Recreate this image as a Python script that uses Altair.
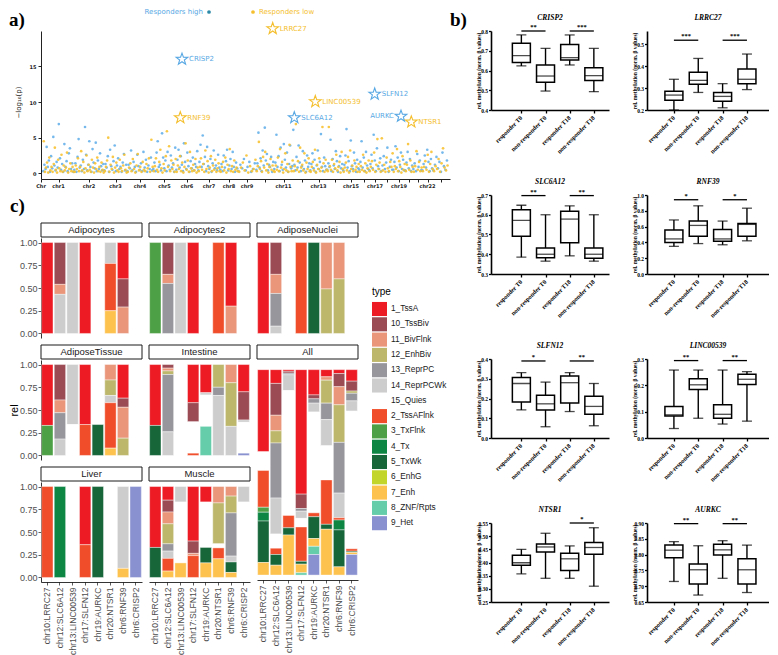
import altair as alt
import pandas as pd

one = pd.DataFrame({"a": [0]})

# ======================= a) Manhattan plot =======================
CHROMS = ["chr1", "chr2", "chr3", "chr4", "chr5", "chr6", "chr7", "chr8", "chr9", "chr10", "chr11",
          "chr12", "chr13", "chr14", "chr15", "chr16", "chr17", "chr18", "chr19", "chr20", "chr21",
          "chr22", "chrX"]
CHROM_EDGES = [2, 33, 63, 86, 112, 135, 157, 179, 197, 215, 233, 252, 269, 286, 302, 318, 328,
               340, 352, 364, 372, 381, 392, 407]
CHROM_TICK_LABELS = ["chr1", "chr2", "chr3", "chr4", "chr5", "chr6", "chr7", "chr8", "chr9", "",
                     "chr11", "", "chr13", "", "chr15", "", "chr17", "", "chr19", "", "", "chr22", ""]

HIGH = {
    "chr1": [0.3, 1.2, 0.6, 3.7, 0.9, 1.8, 0.2, 2.4, 0.7, 5.1, 1.1, 0.4, 1.6, 0.8, 6.9, 2.1, 0.5, 1.3, 0.2, 4.1, 0.9, 1.7, 0.3, 2.8, 3.5, 0.6, 1.4, 0.2],
    "chr2": [0.5, 1.4, 0.2, 2.3, 4.8, 0.8, 1.1, 0.3, 1.9, 0.6, 6.5, 2.6, 0.4, 1.2, 4.5, 0.9, 0.2, 3.4, 1.5, 0.7, 4.3, 0.3, 1.8, 0.6, 2.8, 1.0, 0.4, 1.3],
    "chr3": [0.4, 1.3, 0.8, 2.4, 0.2, 3.3, 1.0, 0.5, 1.7, 3.9, 0.3, 1.1, 2.1, 0.6, 0.9, 0.2, 1.5, 2.7, 0.4, 1.2],
    "chr4": [0.3, 1.2, 0.7, 3.2, 0.4, 1.6, 0.9, 0.2, 2.6, 1.0, 0.5, 1.4, 0.3, 3.0, 0.8, 1.9, 0.2, 1.1, 0.6, 2.2, 0.4],
    "chr5": [0.6, 1.5, 0.3, 2.9, 4.5, 0.9, 1.2, 0.4, 5.6, 2.2, 0.7, 1.8, 0.3, 3.0, 1.1, 0.5, 2.5, 0.8, 1.4, 0.2, 3.6],
    "chr6": [0.5, 1.9, 3.3, 0.8, 2.4, 1.2, 0.3, 4.2, 1.6, 0.6, 2.9, 1.0, 0.2, 1.7, 0.7, 2.2, 0.4, 1.3, 0.9, 3.1],
    "chr7": [0.4, 1.6, 4.0, 0.9, 5.3, 1.3, 2.3, 0.3, 3.7, 1.0, 0.6, 2.0, 0.2, 1.4, 3.2, 0.7, 1.1, 0.4, 2.6, 0.8],
    "chr8": [0.5, 1.3, 0.3, 2.5, 0.8, 1.7, 3.3, 0.4, 1.1, 2.0, 0.6, 3.0, 0.9, 0.2, 1.5, 0.7],
    "chr9": [0.3, 1.2, 0.7, 2.0, 0.4, 0.9, 1.6, 0.2, 0.6, 1.4],
    "chr10": [0.5, 1.4, 5.7, 0.8, 2.1, 0.3, 3.2, 1.1, 6.4, 1.8, 2.7, 0.4, 1.2, 0.9, 2.3, 0.2, 1.6],
    "chr11": [0.6, 1.5, 5.4, 0.9, 2.4, 0.3, 3.6, 1.2, 0.5, 4.1, 1.9, 0.8, 2.9, 0.2, 1.3, 3.9, 0.7, 1.0],
    "chr12": [6.1, 1.2, 0.4, 2.3, 0.8, 3.9, 1.5, 0.3, 1.0, 3.1, 0.6, 1.8, 0.2, 2.5, 0.9, 1.4],
    "chr13": [0.4, 1.3, 2.8, 0.7, 1.9, 0.2, 1.1, 3.2, 0.6, 1.6, 5.5, 0.9, 0.3, 2.2, 1.0, 0.5],
    "chr14": [0.5, 1.4, 0.9, 4.7, 0.3, 2.0, 1.1, 0.6, 3.1, 1.7, 0.2, 1.0, 2.4, 0.7, 1.3],
    "chr15": [0.4, 1.2, 2.5, 6.2, 0.8, 1.7, 0.3, 4.6, 1.0, 0.6, 2.9, 1.4, 0.2, 1.9, 0.7],
    "chr16": [0.5, 1.6, 4.5, 0.8, 2.2, 0.3, 3.0, 1.1, 0.6],
    "chr17": [0.4, 1.3, 2.6, 0.7, 5.4, 1.8, 0.3, 3.5, 1.0, 0.6, 2.1],
    "chr18": [0.3, 1.1, 2.4, 0.6, 1.5, 3.6, 0.2, 0.9, 1.9, 0.5],
    "chr19": [0.5, 1.6, 3.8, 0.8, 2.2, 0.3, 1.2, 2.9, 0.6, 1.9, 0.4],
    "chr20": [0.4, 1.5, 3.0, 0.7, 2.0, 0.3, 1.1],
    "chr21": [0.6, 1.4, 0.3, 2.7, 0.9, 1.8, 0.4],
    "chr22": [0.4, 1.3, 2.5, 0.8, 3.3, 1.6, 0.3, 2.0, 0.7],
    "chrX": [0.4, 1.2, 2.3, 0.7, 1.6, 0.2, 2.9, 1.0, 0.5, 1.8],
}
LOW = {
    "chr1": [4.5, 0.2, 0.8, 1.5, 0.1, 2.2, 0.4, 0.9, 0.2, 1.3, 3.6, 0.5, 0.1, 1.9, 0.7, 0.3, 2.6, 0.2, 1.1, 0.4, 0.8, 2.9, 0.1, 0.6, 1.4, 0.3, 0.9, 0.2],
    "chr2": [0.2, 1.1, 0.6, 2.1, 0.3, 0.9, 3.1, 0.4, 1.6, 0.1, 0.7, 2.5, 0.3, 1.2, 0.5, 0.2, 1.9, 0.8, 0.1, 1.4, 0.6, 2.2, 0.3, 0.9, 0.2, 1.5, 0.5, 0.1],
    "chr3": [0.3, 0.9, 1.8, 5.0, 0.2, 1.2, 0.6, 2.3, 0.1, 0.8, 1.5, 0.4, 0.2, 1.9, 0.7, 0.3, 1.1, 2.6, 0.5, 0.1],
    "chr4": [0.2, 0.8, 1.4, 0.3, 2.0, 0.6, 0.1, 1.1, 2.7, 0.4, 0.9, 0.2, 1.6, 0.5, 0.3, 1.3, 0.7, 2.1, 0.2, 4.7, 0.9],
    "chr5": [0.3, 1.0, 2.1, 0.5, 0.2, 1.6, 3.3, 0.7, 0.1, 1.3, 0.4, 2.4, 5.9, 0.9, 3.8, 0.3, 1.8, 0.6, 1.2, 0.2, 2.0],
    "chr6": [0.2, 1.1, 0.6, 2.4, 0.3, 1.5, 0.1, 0.9, 4.2, 0.5, 1.8, 0.2, 3.0, 0.7, 0.3, 1.2, 0.4, 2.0, 0.1, 0.8],
    "chr7": [0.3, 0.9, 2.1, 0.5, 1.3, 0.2, 3.2, 0.6, 1.7, 0.1, 0.8, 2.4, 0.3, 1.1, 0.5, 1.9, 0.2, 0.7, 1.4, 0.3],
    "chr8": [0.2, 0.9, 1.6, 0.4, 2.2, 0.1, 1.2, 0.6, 3.4, 0.3, 1.0, 0.2, 1.8, 0.5, 0.8, 0.3],
    "chr9": [0.2, 0.8, 1.5, 0.4, 2.5, 0.1, 1.0, 0.3, 0.6, 1.9],
    "chr10": [0.3, 1.0, 4.4, 0.6, 1.7, 0.2, 2.3, 0.8, 3.0, 0.4, 1.3, 0.1, 0.9, 2.0, 0.5, 1.1, 0.3],
    "chr11": [0.2, 1.1, 0.5, 2.2, 0.3, 3.4, 0.8, 1.6, 0.1, 0.6, 2.8, 0.4, 1.3, 0.2, 4.0, 0.9, 0.3, 1.8],
    "chr12": [0.3, 1.0, 6.9, 0.5, 1.7, 0.2, 3.6, 0.8, 1.2, 0.4, 2.8, 0.1, 1.5, 0.6, 2.1, 0.3],
    "chr13": [0.2, 0.9, 1.6, 0.4, 3.3, 0.1, 1.2, 0.6, 2.1, 0.3, 0.8, 6.5, 1.4, 0.2, 1.9, 0.5],
    "chr14": [0.3, 6.5, 1.0, 0.5, 1.9, 0.2, 1.3, 0.7, 2.6, 0.4, 0.9, 1.6, 0.1, 3.0, 0.6],
    "chr15": [0.2, 0.8, 1.5, 0.4, 2.3, 0.1, 3.2, 0.6, 1.1, 0.3, 1.8, 0.5, 0.9, 0.2, 1.3],
    "chr16": [0.2, 1.0, 0.5, 2.6, 0.3, 1.4, 0.1, 0.7, 1.8],
    "chr17": [0.3, 0.9, 1.7, 0.5, 2.9, 0.2, 1.2, 4.8, 0.6, 1.5, 0.2],
    "chr18": [4.9, 0.4, 1.2, 0.2, 2.2, 0.7, 0.3, 1.6, 0.9, 2.8],
    "chr19": [0.2, 1.0, 0.6, 3.4, 0.3, 1.7, 0.9, 0.1, 2.4, 0.5, 1.3],
    "chr20": [0.3, 1.2, 4.1, 0.5, 1.8, 0.2, 0.9],
    "chr21": [0.2, 1.0, 3.1, 0.5, 1.6, 0.3, 0.8],
    "chr22": [0.3, 0.9, 1.7, 0.5, 2.6, 0.2, 1.3, 3.0, 0.6],
    "chrX": [0.3, 1.0, 0.6, 2.0, 0.2, 1.4, 3.5, 0.8, 0.4, 1.1],
}

GENES = ["LRRC27", "CRISP2", "RNF39", "SLC6A12", "LINC00539", "SLFN12", "AURKC", "NTSR1"]
GENE_POS = [231.7, 141.0, 139.3, 253.3, 274.3, 333.7, 360.0, 370.3]
GENE_P = [20.3, 16.0, 7.8, 7.8, 10.05, 11.1, 8.0, 7.2]
GENE_GROUP = ["low", "high", "low", "high", "low", "high", "high", "low"]
GENE_SIDE = ["right", "right", "right", "right", "right", "right", "left", "right"]

BLUE_PT = "#66B1EA"
YEL_PT = "#F7C232"
BLUE_TXT = "#58A8E4"
YEL_TXT = "#F4BE2C"
# five-pointed star outline as a symbol path (unit box -1..1)
STAR_PATH = ("M0,-1L0.235,-0.324L0.951,-0.309L0.380,0.124L0.588,0.809L0,0.4L-0.588,0.809"
             "L-0.380,0.124L-0.951,-0.309L-0.235,-0.324Z")

man_rows = []
for ci, ch in enumerate(CHROMS):
    s, e = CHROM_EDGES[ci], CHROM_EDGES[ci + 1]
    for grp, src, off in (("high", HIGH, 0.3), ("low", LOW, 0.7)):
        vals = src[ch]
        n = len(vals)
        for k, v in enumerate(vals):
            man_rows.append({"pos": s + (k + off) * (e - s) / n, "p": v, "grp": grp})
man_df = pd.DataFrame(man_rows)

tick_vals = [0.0] + [(CHROM_EDGES[i] + CHROM_EDGES[i + 1]) / 2 for i in range(len(CHROMS))]
tick_labs = ["Chr"] + CHROM_TICK_LABELS
tick_df = pd.DataFrame({"pos": tick_vals, "lab": tick_labs})
tick_df = tick_df[tick_df["lab"] != ""]

MAN_H = 148
m_xsc = alt.Scale(domain=[0, 409], nice=False, zero=False)
m_ysc = alt.Scale(domain=[-0.8, 19.96], nice=False, zero=False)
m_xax = alt.Axis(values=tick_vals, labels=False, title=None, grid=False,
                 tickSize=3, tickColor="#222222", domainColor="#222222", domainWidth=1)
m_yax = alt.Axis(values=[0, 5, 10, 15, 20], title="\u2212log\u2081\u2080(p)", grid=False,
                 labelFont="DejaVu Sans", labelFontWeight="bold", labelFontSize=5,
                 labelColor="#222222", tickSize=3, tickColor="#222222", domainColor="#222222",
                 domainWidth=1, labelPadding=2, titleFont="DejaVu Sans", titleFontWeight="normal",
                 titleFontSize=7, titleColor="#222222", titleX=-23, titleY=71, titleAngle=270,
                 titleAlign="center", titleBaseline="middle")
MX = alt.X("pos:Q", scale=m_xsc, axis=m_xax)
MY = alt.Y("p:Q", scale=m_ysc, axis=m_yax)

man_base = alt.Chart(man_df)
blue_pts = man_base.transform_filter("datum.grp == 'high'").mark_circle(
    size=7, color=BLUE_PT, opacity=0.9).encode(x=MX, y=MY)
yel_pts = man_base.transform_filter("datum.grp == 'low'").mark_circle(
    size=7, color=YEL_PT, opacity=0.9).encode(x=MX, y=MY)

chr_labels = alt.Chart(tick_df).mark_text(baseline="top", align="center", fontSize=5,
                                          font="DejaVu Sans", fontWeight="bold",
                                          color="#222222").encode(
    x=MX, y=alt.value(MAN_H + 5), text="lab:N")

star_df = pd.DataFrame({"gene": GENES, "pos": GENE_POS, "p": GENE_P, "grp": GENE_GROUP,
                        "side": GENE_SIDE})
gene_layers = []
for grp, colr in (("high", BLUE_TXT), ("low", YEL_TXT)):
    sub = alt.Chart(star_df).transform_filter("datum.grp == '%s'" % grp)
    gene_layers.append(sub.mark_point(shape=STAR_PATH, filled=False, size=150, strokeWidth=1.1,
                                      color=colr, opacity=1).encode(x=MX, y=MY))
    gene_layers.append(sub.transform_filter("datum.side == 'right'").mark_text(
        align="left", baseline="middle", dx=7, fontSize=7, font="DejaVu Sans", color=colr).encode(
        x=MX, y=MY, text="gene:N"))
    gene_layers.append(sub.transform_filter("datum.side == 'left'").mark_text(
        align="right", baseline="middle", dx=-7, fontSize=7, font="DejaVu Sans", color=colr).encode(
        x=MX, y=MY, text="gene:N"))

leg_t1 = alt.Chart(one).mark_text(text="Responders high", align="right", baseline="middle",
                                  fontSize=7, font="DejaVu Sans", color=BLUE_TXT).encode(
    x=alt.value(162), y=alt.value(-19))
leg_d1 = alt.Chart(one).mark_circle(size=14, color="#2C8AA8", opacity=1).encode(
    x=alt.value(168), y=alt.value(-19))
leg_d2 = alt.Chart(one).mark_circle(size=14, color=YEL_TXT, opacity=1).encode(
    x=alt.value(212), y=alt.value(-19))
leg_t2 = alt.Chart(one).mark_text(text="Responders low", align="left", baseline="middle",
                                  fontSize=7, font="DejaVu Sans", color=YEL_TXT).encode(
    x=alt.value(218), y=alt.value(-19))
lab_a = alt.Chart(one).mark_text(text="a)", align="left", baseline="alphabetic", fontSize=19,
                                 font="Liberation Serif", fontWeight="bold", color="black").encode(
    x=alt.value(-32), y=alt.value(-5))

manhattan = alt.layer(blue_pts, yel_pts, chr_labels, *gene_layers, leg_t1, leg_d1, leg_d2, leg_t2,
                      lab_a).properties(width=409, height=MAN_H)

# ======================= c) chromatin states =======================
TYPES = ["1_TssA", "10_TssBiv", "11_BivFlnk", "12_EnhBiv", "13_ReprPC", "14_ReprPCWk", "15_Quies",
         "2_TssAFlnk", "3_TxFlnk", "4_Tx", "5_TxWk", "6_EnhG", "7_Enh", "8_ZNF/Rpts", "9_Het"]
TYPE_COLORS = ["#ED1C24", "#9B4B53", "#E9967A", "#BDB76B", "#96969C", "#CDCDCD", "#FFFFFF",
               "#F04E2A", "#4EA046", "#0D8543", "#17663A", "#C2D52B", "#FDC24E", "#66CDAA",
               "#8A91D0"]
CATS = ["chr10:LRRC27", "chr12:SLC6A12", "chr13:LINC00539", "chr17:SLFN12", "chr19:AURKC",
        "chr20:NTSR1", "chr6:RNF39", "chr6:CRISP2"]

ADIPOCYTES = {
    "chr10:LRRC27": {"1_TssA": 1.0},
    "chr12:SLC6A12": {"10_TssBiv": 0.46, "11_BivFlnk": 0.11, "14_ReprPCWk": 0.43},
    "chr13:LINC00539": {"14_ReprPCWk": 1.0},
    "chr17:SLFN12": {"1_TssA": 1.0},
    "chr20:NTSR1": {"14_ReprPCWk": 0.23, "2_TssAFlnk": 0.52, "7_Enh": 0.25},
    "chr6:RNF39": {"1_TssA": 0.40, "10_TssBiv": 0.31, "11_BivFlnk": 0.29},
}
ADIPOCYTES2 = {
    "chr10:LRRC27": {"3_TxFlnk": 1.0},
    "chr12:SLC6A12": {"10_TssBiv": 0.35, "11_BivFlnk": 0.10, "13_ReprPC": 0.55},
    "chr13:LINC00539": {"14_ReprPCWk": 1.0},
    "chr17:SLFN12": {"1_TssA": 1.0},
    "chr20:NTSR1": {"2_TssAFlnk": 1.0},
    "chr6:RNF39": {"1_TssA": 0.70, "11_BivFlnk": 0.30},
}
ADIPOSE_NUCLEI = {
    "chr10:LRRC27": {"1_TssA": 1.0},
    "chr12:SLC6A12": {"10_TssBiv": 0.35, "11_BivFlnk": 0.21, "13_ReprPC": 0.36, "14_ReprPCWk": 0.08},
    "chr17:SLFN12": {"2_TssAFlnk": 1.0},
    "chr19:AURKC": {"5_TxWk": 1.0},
    "chr20:NTSR1": {"11_BivFlnk": 0.51, "12_EnhBiv": 0.49},
    "chr6:RNF39": {"11_BivFlnk": 0.40, "12_EnhBiv": 0.60},
}
ADIPOSE_TISSUE = {
    "chr10:LRRC27": {"1_TssA": 0.67, "3_TxFlnk": 0.33},
    "chr12:SLC6A12": {"10_TssBiv": 0.39, "11_BivFlnk": 0.14, "13_ReprPC": 0.29, "14_ReprPCWk": 0.18},
    "chr13:LINC00539": {"14_ReprPCWk": 0.66, "15_Quies": 0.34},
    "chr17:SLFN12": {"1_TssA": 0.66, "2_TssAFlnk": 0.34},
    "chr19:AURKC": {"15_Quies": 0.66, "5_TxWk": 0.34},
    "chr20:NTSR1": {"11_BivFlnk": 0.17, "12_EnhBiv": 0.17, "14_ReprPCWk": 0.08, "2_TssAFlnk": 0.50, "7_Enh": 0.08},
    "chr6:RNF39": {"1_TssA": 0.37, "10_TssBiv": 0.10, "11_BivFlnk": 0.34, "12_EnhBiv": 0.19},
}
INTESTINE = {
    "chr10:LRRC27": {"1_TssA": 0.67, "5_TxWk": 0.33},
    "chr12:SLC6A12": {"10_TssBiv": 0.04, "11_BivFlnk": 0.03, "12_EnhBiv": 0.04, "13_ReprPC": 0.63, "14_ReprPCWk": 0.26},
    "chr17:SLFN12": {"1_TssA": 0.42, "10_TssBiv": 0.21, "15_Quies": 0.345, "2_TssAFlnk": 0.025},
    "chr19:AURKC": {"1_TssA": 0.31, "14_ReprPCWk": 0.025, "15_Quies": 0.345, "8_ZNF/Rpts": 0.32},
    "chr20:NTSR1": {"12_EnhBiv": 0.25, "13_ReprPC": 0.09, "14_ReprPCWk": 0.66},
    "chr6:RNF39": {"11_BivFlnk": 0.20, "12_EnhBiv": 0.48, "14_ReprPCWk": 0.32},
    "chr6:CRISP2": {"1_TssA": 0.30, "10_TssBiv": 0.31, "14_ReprPCWk": 0.025, "15_Quies": 0.34, "9_Het": 0.025},
}
LIVER = {
    "chr10:LRRC27": {"2_TssAFlnk": 1.0},
    "chr12:SLC6A12": {"4_Tx": 1.0},
    "chr17:SLFN12": {"1_TssA": 0.64, "2_TssAFlnk": 0.36},
    "chr19:AURKC": {"5_TxWk": 1.0},
    "chr6:RNF39": {"14_ReprPCWk": 0.90, "7_Enh": 0.10},
    "chr6:CRISP2": {"9_Het": 1.0},
}
MUSCLE = {
    "chr10:LRRC27": {"1_TssA": 0.67, "5_TxWk": 0.33},
    "chr12:SLC6A12": {"1_TssA": 0.15, "10_TssBiv": 0.13, "11_BivFlnk": 0.13, "12_EnhBiv": 0.22, "13_ReprPC": 0.08, "14_ReprPCWk": 0.08, "2_TssAFlnk": 0.14, "7_Enh": 0.07},
    "chr13:LINC00539": {"14_ReprPCWk": 0.17, "15_Quies": 0.67, "7_Enh": 0.16},
    "chr17:SLFN12": {"1_TssA": 0.60, "10_TssBiv": 0.135, "11_BivFlnk": 0.025, "2_TssAFlnk": 0.24},
    "chr19:AURKC": {"1_TssA": 0.17, "15_Quies": 0.50, "5_TxWk": 0.17, "7_Enh": 0.16},
    "chr20:NTSR1": {"11_BivFlnk": 0.18, "12_EnhBiv": 0.45, "15_Quies": 0.045, "2_TssAFlnk": 0.12, "7_Enh": 0.205},
    "chr6:RNF39": {"11_BivFlnk": 0.105, "12_EnhBiv": 0.185, "13_ReprPC": 0.475, "14_ReprPCWk": 0.065, "5_TxWk": 0.115, "7_Enh": 0.055},
    "chr6:CRISP2": {"14_ReprPCWk": 0.17, "15_Quies": 0.83},
}
ALL = {
    "chr10:LRRC27": {"1_TssA": 0.40, "15_Quies": 0.091, "2_TssAFlnk": 0.179, "3_TxFlnk": 0.024, "4_Tx": 0.043, "5_TxWk": 0.202, "7_Enh": 0.061},
    "chr12:SLC6A12": {"1_TssA": 0.067, "10_TssBiv": 0.155, "11_BivFlnk": 0.076, "12_EnhBiv": 0.059, "13_ReprPC": 0.268, "14_ReprPCWk": 0.175, "15_Quies": 0.069, "2_TssAFlnk": 0.031, "5_TxWk": 0.052, "7_Enh": 0.048},
    "chr13:LINC00539": {"1_TssA": 0.008, "10_TssBiv": 0.009, "13_ReprPC": 0.008, "14_ReprPCWk": 0.077, "15_Quies": 0.608, "2_TssAFlnk": 0.06, "5_TxWk": 0.035, "7_Enh": 0.195},
    "chr17:SLFN12": {"1_TssA": 0.606, "10_TssBiv": 0.07, "13_ReprPC": 0.013, "14_ReprPCWk": 0.035, "15_Quies": 0.042, "2_TssAFlnk": 0.167, "5_TxWk": 0.014, "7_Enh": 0.042, "8_ZNF/Rpts": 0.011},
    "chr19:AURKC": {"1_TssA": 0.123, "10_TssBiv": 0.019, "13_ReprPC": 0.021, "14_ReprPCWk": 0.043, "15_Quies": 0.491, "2_TssAFlnk": 0.019, "5_TxWk": 0.106, "7_Enh": 0.038, "8_ZNF/Rpts": 0.04, "9_Het": 0.10},
    "chr20:NTSR1": {"1_TssA": 0.035, "11_BivFlnk": 0.016, "12_EnhBiv": 0.112, "13_ReprPC": 0.08, "14_ReprPCWk": 0.127, "15_Quies": 0.167, "2_TssAFlnk": 0.216, "5_TxWk": 0.024, "7_Enh": 0.223},
    "chr6:RNF39": {"1_TssA": 0.019, "10_TssBiv": 0.064, "11_BivFlnk": 0.088, "12_EnhBiv": 0.183, "13_ReprPC": 0.247, "14_ReprPCWk": 0.12, "2_TssAFlnk": 0.011, "4_Tx": 0.048, "5_TxWk": 0.18, "7_Enh": 0.04},
    "chr6:CRISP2": {"1_TssA": 0.056, "10_TssBiv": 0.048, "12_EnhBiv": 0.011, "13_ReprPC": 0.037, "14_ReprPCWk": 0.05, "15_Quies": 0.67, "2_TssAFlnk": 0.012, "5_TxWk": 0.006, "7_Enh": 0.01, "9_Het": 0.10},
}

PW = 101
PH = 100
COLOR_SCALE = alt.Scale(domain=TYPES, range=TYPE_COLORS)


def c_panel(name, comp, height=PH, ydom=(-0.05, 1.05), show_y=False, show_x=False,
            ytitle=None, extra=()):
    rows = []
    for cat, parts in comp.items():
        for t, v in parts.items():
            rows.append({"cat": cat, "type": t, "value": v, "ord": len(TYPES) - 1 - TYPES.index(t)})
    df = pd.DataFrame(rows)
    if show_y:
        yax = alt.Axis(values=[0, 0.25, 0.5, 0.75, 1], format=".2f", labelFontSize=9,
                       labelColor="#4D4D4D", labelFont="Liberation Sans", tickColor="#333333",
                       tickSize=3, tickWidth=0.8, domainColor="#000000", domainWidth=0.8,
                       grid=False, labelPadding=1,
                       title=ytitle if ytitle else None, titleFont="Liberation Sans",
                       titleFontSize=11, titleFontWeight="normal", titleColor="#000000",
                       titleX=-27, titleY=height / 2, titleAngle=270, titleAlign="center",
                       titleBaseline="middle")
    else:
        yax = None
    if show_x:
        xax = alt.Axis(labelAngle=270, labelAlign="right", labelBaseline="middle",
                       labelFontSize=8.6, labelColor="#4D4D4D", labelFont="Liberation Sans",
                       tickColor="#333333", tickSize=3, tickWidth=0.8, domainColor="#000000",
                       domainWidth=0.8, grid=False, title=None, labelPadding=2)
    else:
        xax = None
    bars = alt.Chart(df).mark_bar(stroke="white", strokeWidth=0.4).encode(
        x=alt.X("cat:N", scale=alt.Scale(domain=CATS, paddingInner=0.1, paddingOuter=0.05),
                axis=xax, title=None),
        y=alt.Y("value:Q", stack="zero", scale=alt.Scale(domain=list(ydom), nice=False, zero=False),
                axis=yax, title=None),
        color=alt.Color("type:N", scale=COLOR_SCALE, legend=None),
        order=alt.Order("ord:Q", sort="ascending"),
    )
    strip = alt.Chart(one).mark_rect(fill="white", stroke="#1A1A1A", strokeWidth=1).encode(
        x=alt.value(0), x2=alt.value(PW), y=alt.value(-15), y2=alt.value(-1))
    strip_t = alt.Chart(one).mark_text(text=name, fontSize=9.5, font="Liberation Sans",
                                       color="#1A1A1A", baseline="middle", align="center").encode(
        x=alt.value(PW / 2), y=alt.value(-8))
    layers = [bars, strip, strip_t] + list(extra)
    return alt.layer(*layers).properties(width=PW, height=height)


lab_c = alt.Chart(one).mark_text(text="c)", align="left", baseline="alphabetic", fontSize=19,
                                 font="Liberation Serif", fontWeight="bold", color="black").encode(
    x=alt.value(-31), y=alt.value(-26))

leg_df = pd.DataFrame({"type": TYPES, "i": list(range(len(TYPES)))})
leg_df["i0"] = leg_df["i"] - 0.46
leg_df["i1"] = leg_df["i"] + 0.46
LEG_H = 300
LEG_STEP = 15.3
L_D0 = -71 / LEG_STEP
L_SC = alt.Scale(domain=[L_D0, L_D0 + LEG_H / LEG_STEP], reverse=True, nice=False, zero=False)
leg_sw = alt.Chart(leg_df).mark_rect().encode(
    x=alt.value(0), x2=alt.value(15),
    y=alt.Y("i0:Q", scale=L_SC, axis=None), y2="i1:Q",
    color=alt.Color("type:N", scale=COLOR_SCALE, legend=None))
leg_lab = alt.Chart(leg_df).mark_text(align="left", baseline="middle", fontSize=8.3,
                                      font="Liberation Sans", color="#1A1A1A").encode(
    x=alt.value(19), y=alt.Y("i:Q", scale=L_SC, axis=None), text="type:N")
leg_title = alt.Chart(pd.DataFrame({"i": [-1.1]})).mark_text(
    text="type", align="left", baseline="middle", fontSize=10, font="Liberation Sans",
    color="#000000").encode(x=alt.value(0), y=alt.Y("i:Q", scale=L_SC, axis=None))
legend_chart = alt.layer(leg_sw, leg_lab, leg_title).properties(width=15, height=LEG_H)

ALL_H = 2 * PH + 20
p_adipocytes = c_panel("Adipocytes", ADIPOCYTES, show_y=True, extra=(lab_c,))
p_adipocytes2 = c_panel("Adipocytes2", ADIPOCYTES2)
p_nuclei = c_panel("AdiposeNuclei", ADIPOSE_NUCLEI)
p_tissue = c_panel("AdiposeTissue", ADIPOSE_TISSUE, show_y=True, ytitle="rel")
p_intestine = c_panel("Intestine", INTESTINE)
p_all = c_panel("All", ALL, height=ALL_H, ydom=(-0.024, 1.047), show_x=True)
p_liver = c_panel("Liver", LIVER, show_y=True, show_x=True)
p_muscle = c_panel("Muscle", MUSCLE, show_x=True)

row1 = alt.hconcat(p_adipocytes, p_adipocytes2, p_nuclei, spacing=5)
col12 = alt.vconcat(alt.hconcat(p_tissue, p_intestine, spacing=5),
                    alt.hconcat(p_liver, p_muscle, spacing=5), spacing=5)
row23 = alt.hconcat(col12, p_all, spacing=5)
grid_c = alt.vconcat(row1, row23, spacing=5)
panel_c = alt.hconcat(grid_c, legend_chart, spacing=13)

LEFT = alt.vconcat(manhattan, panel_c, spacing=8)

# ======================= b) box plots =======================
GROUPS = ["responder T0", "non-responder T0", "responder T18", "non-responder T18"]
BOX_GENES = ["CRISP2", "LRRC27", "SLC6A12", "RNF39", "SLFN12", "LINC00539", "NTSR1", "AURKC"]
BOX_MIN = {"CRISP2": [0.623, 0.496, 0.628, 0.493], "LRRC27": [0.20, 0.28, 0.21, 0.293],
           "SLC6A12": [0.385, 0.365, 0.392, 0.365], "RNF39": [0.35, 0.385, 0.37, 0.42],
           "SLFN12": [0.142, 0.057, 0.134, 0.062], "LINC00539": [0.036, 0.075, 0.053, 0.064],
           "NTSR1": [0.357, 0.34, 0.34, 0.31], "AURKC": [0.715, 0.672, 0.725, 0.68]}
BOX_Q1 = {"CRISP2": [0.641, 0.54, 0.653, 0.549], "LRRC27": [0.245, 0.317, 0.24, 0.32],
          "SLC6A12": [0.491, 0.382, 0.458, 0.38], "RNF39": [0.40, 0.479, 0.415, 0.479],
          "SLFN12": [0.182, 0.142, 0.177, 0.12], "LINC00539": [0.084, 0.184, 0.075, 0.203],
          "NTSR1": [0.39, 0.44, 0.37, 0.431], "AURKC": [0.79, 0.707, 0.799, 0.707]}
BOX_MED = {"CRISP2": [0.675, 0.572, 0.665, 0.574], "LRRC27": [0.268, 0.335, 0.262, 0.34],
           "SLC6A12": [0.572, 0.40, 0.578, 0.40], "RNF39": [0.444, 0.615, 0.444, 0.628],
           "SLFN12": [0.276, 0.173, 0.28, 0.16], "LINC00539": [0.088, 0.202, 0.09, 0.223],
           "NTSR1": [0.399, 0.459, 0.414, 0.457], "AURKC": [0.814, 0.752, 0.815, 0.752]}
BOX_Q3 = {"CRISP2": [0.738, 0.628, 0.732, 0.614], "LRRC27": [0.286, 0.372, 0.28, 0.387],
          "SLC6A12": [0.625, 0.432, 0.618, 0.432], "RNF39": [0.556, 0.67, 0.564, 0.64],
          "SLFN12": [0.306, 0.216, 0.314, 0.211], "LINC00539": [0.12, 0.225, 0.126, 0.242],
          "NTSR1": [0.428, 0.47, 0.435, 0.476], "AURKC": [0.83, 0.77, 0.833, 0.787]}
BOX_MAX = {"CRISP2": [0.78, 0.712, 0.78, 0.712], "LRRC27": [0.34, 0.435, 0.32, 0.455],
           "SLC6A12": [0.648, 0.60, 0.645, 0.60], "RNF39": [0.684, 0.863, 0.67, 0.833],
           "SLFN12": [0.331, 0.283, 0.331, 0.276], "LINC00539": [0.258, 0.258, 0.258, 0.252],
           "NTSR1": [0.45, 0.511, 0.463, 0.532], "AURKC": [0.841, 0.828, 0.844, 0.83]}
Y_DOMAIN = {"CRISP2": [0.4, 0.8], "LRRC27": [0.2, 0.56], "SLC6A12": [0.3, 0.7], "RNF39": [0.0, 1.0],
            "SLFN12": [0.0, 0.4], "LINC00539": [0.0, 0.3], "NTSR1": [0.25, 0.55], "AURKC": [0.65, 0.90]}
Y_TICKS = {"CRISP2": [0.4, 0.5, 0.6, 0.7, 0.8], "LRRC27": [0.2, 0.3, 0.4, 0.5],
           "SLC6A12": [0.3, 0.4, 0.5, 0.6, 0.7], "RNF39": [0.0, 0.2, 0.4, 0.6, 0.8, 1.0],
           "SLFN12": [0.0, 0.1, 0.2, 0.3, 0.4], "LINC00539": [0.0, 0.1, 0.2, 0.3],
           "NTSR1": [0.25, 0.30, 0.35, 0.40, 0.45, 0.50, 0.55],
           "AURKC": [0.65, 0.70, 0.75, 0.80, 0.85, 0.90]}
Y_FMT = {"CRISP2": ".1f", "LRRC27": ".1f", "SLC6A12": ".1f", "RNF39": ".1f", "SLFN12": ".1f",
         "LINC00539": ".1f", "NTSR1": ".2f", "AURKC": ".2f"}
SIGS = {"CRISP2": [(1, 2, 0.80, "**"), (3, 4, 0.80, "***")],
        "LRRC27": [(1, 2, 0.518, "***"), (3, 4, 0.518, "***")],
        "SLC6A12": [(1, 2, 0.697, "**"), (3, 4, 0.697, "**")],
        "RNF39": [(1, 2, 0.94, "*"), (3, 4, 0.94, "*")],
        "SLFN12": [(1, 2, 0.39, "*"), (3, 4, 0.39, "**")],
        "LINC00539": [(1, 2, 0.294, "**"), (3, 4, 0.294, "**")],
        "NTSR1": [(3, 4, 0.55, "*")],
        "AURKC": [(1, 2, 0.898, "**"), (3, 4, 0.898, "**")]}

SERIF = "Liberation Serif"
BH = 79


def box_chart(gene, width, xdom, first=False):
    df = pd.DataFrame({"pos": [1, 2, 3, 4], "grp": GROUPS, "mn": BOX_MIN[gene], "q1": BOX_Q1[gene],
                       "med": BOX_MED[gene], "q3": BOX_Q3[gene], "mx": BOX_MAX[gene]})
    xsc = alt.Scale(domain=xdom, nice=False, zero=False)
    ysc = alt.Scale(domain=Y_DOMAIN[gene], nice=False, zero=False)
    xax = alt.Axis(values=[1, 2, 3, 4], labels=False, tickSize=3, tickWidth=1.3, tickColor="black",
                   domainWidth=1.6, domainColor="black", grid=False, title=None)
    yax = alt.Axis(values=Y_TICKS[gene], format=Y_FMT[gene], labelFont=SERIF, labelFontWeight="bold",
                   labelFontSize=5.5, labelColor="black", tickSize=2.5, tickWidth=1.3,
                   tickColor="black", domainWidth=1.6, domainColor="black", grid=False,
                   labelPadding=1, title="rel. methylation (norm. \u03b2 values)", titleFont=SERIF,
                   titleFontWeight="bold", titleFontSize=5.5, titleColor="black", titleX=-13,
                   titleY=BH / 2, titleAngle=270, titleAlign="center", titleBaseline="middle")
    X = alt.X("pos:Q", scale=xsc, axis=xax)
    base = alt.Chart(df)
    whisk = base.mark_rule(color="black", strokeWidth=1.4).encode(
        x=X, y=alt.Y("mn:Q", scale=ysc, axis=yax), y2="mx:Q")
    box = base.mark_bar(size=18, fill="white", stroke="black", strokeWidth=1.5).encode(
        x=X, y=alt.Y("q1:Q", scale=ysc, axis=yax), y2="q3:Q")
    med = base.mark_tick(orient="horizontal", size=18, thickness=1.3, color="black").encode(
        x=X, y=alt.Y("med:Q", scale=ysc, axis=yax))
    cap1 = base.mark_tick(orient="horizontal", size=10, thickness=1.3, color="black").encode(
        x=X, y=alt.Y("mn:Q", scale=ysc, axis=yax))
    cap2 = base.mark_tick(orient="horizontal", size=10, thickness=1.3, color="black").encode(
        x=X, y=alt.Y("mx:Q", scale=ysc, axis=yax))
    xlab = base.mark_text(angle=315, align="right", baseline="middle", fontSize=6.2, font=SERIF,
                          fontWeight="bold", color="black").encode(
        x=X, y=alt.value(BH + 7), text="grp:N")
    sig = pd.DataFrame([{"x1": a, "x2": b, "xm": (a + b) / 2, "lv": lv, "lab": s}
                        for (a, b, lv, s) in SIGS[gene]])
    sig_rule = alt.Chart(sig).mark_rule(color="black", strokeWidth=1.3).encode(
        x=alt.X("x1:Q", scale=xsc, axis=xax), x2="x2:Q", y=alt.Y("lv:Q", scale=ysc, axis=yax))
    sig_txt = alt.Chart(sig).mark_text(baseline="bottom", dy=-1, fontSize=6.5, font=SERIF,
                                       fontWeight="bold", color="black").encode(
        x=alt.X("xm:Q", scale=xsc, axis=xax), y=alt.Y("lv:Q", scale=ysc, axis=yax), text="lab:N")
    title = alt.Chart(one).mark_text(text=gene, fontSize=7.5, font=SERIF, fontStyle="italic",
                                     fontWeight="bold", color="black", baseline="middle").encode(
        x=alt.value(width / 2), y=alt.value(-13))
    layers = [whisk, box, med, cap1, cap2, xlab, sig_rule, sig_txt, title]
    if first:
        layers.append(alt.Chart(one).mark_text(text="b)", align="left", baseline="alphabetic",
                                               fontSize=19, font=SERIF, fontWeight="bold",
                                               color="black").encode(
            x=alt.value(-41), y=alt.value(-5)))
    return alt.layer(*layers).properties(width=width, height=BH)


box_charts = []
for gi, g in enumerate(BOX_GENES):
    if gi % 2 == 0:
        box_charts.append(box_chart(g, 118, [-0.05, 4.42], first=(gi == 0)))
    else:
        box_charts.append(box_chart(g, 122, [0.1, 4.7]))

RIGHT = alt.concat(*box_charts, columns=2, spacing=22)

chart = alt.hconcat(LEFT, RIGHT, spacing=0).properties(padding=0).configure_view(stroke=None)
chart.save("out.html", embed_options={"renderer": "svg", "actions": False})
